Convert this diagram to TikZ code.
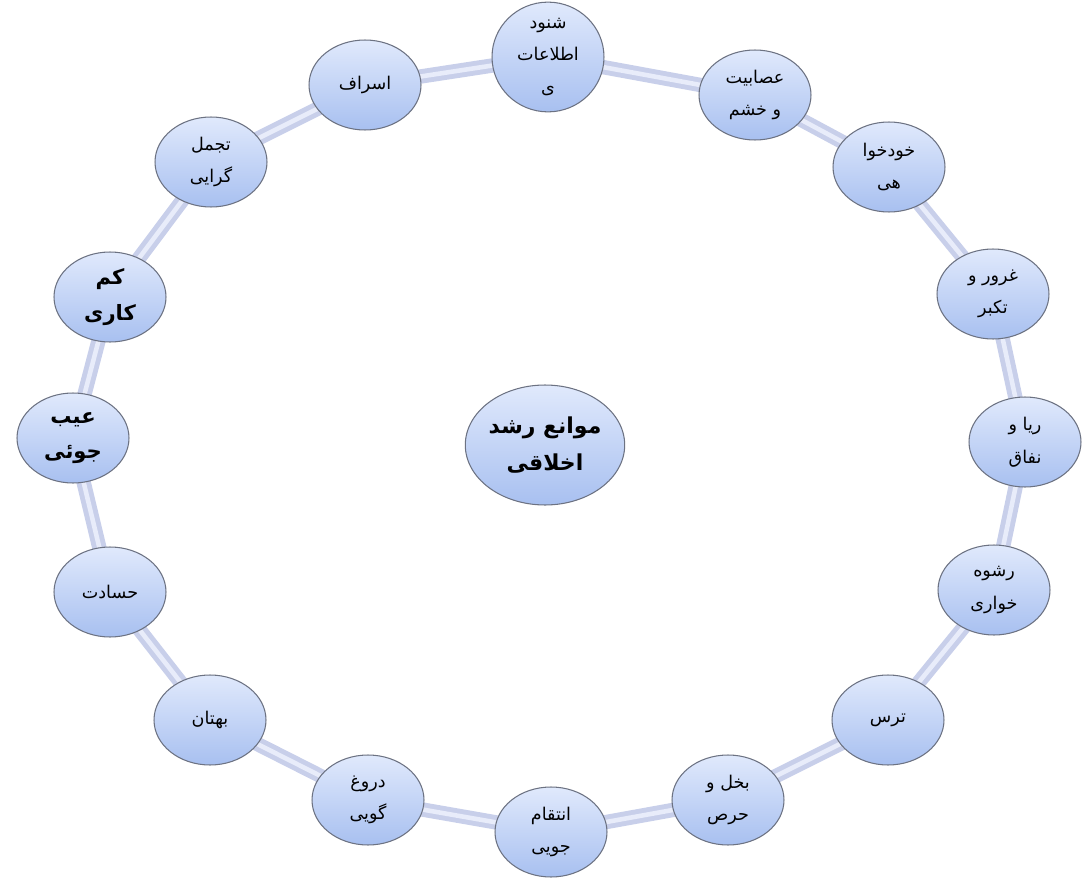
\documentclass[tikz,border=0pt]{standalone}
\usepackage{fontspec}
\newfontfamily\farsi[Script=Arabic]{DejaVu Sans}
\TeXXeTstate=1
\newcommand{\fa}[1]{{\farsi\beginR #1\endR}}
\usetikzlibrary{shapes.geometric, backgrounds}

\definecolor{anneau}{RGB}{200,207,234}
\definecolor{anneauclair}{RGB}{232,236,250}
\definecolor{bullebas}{RGB}{168,192,240}
\definecolor{bullehaut}{RGB}{224,233,252}
\definecolor{contour}{RGB}{108,114,130}

\tikzset{
  bulle/.style={ellipse, draw=contour, line width=0.6pt, top color=bullehaut, bottom color=bullebas,
    minimum width=2.24cm, minimum height=1.8cm, inner sep=0pt, align=center,
    font=\fontsize{10}{18.5}\selectfont},
  bullegras/.style={bulle, font=\bfseries\fontsize{12}{20}\selectfont},
  centre/.style={bulle, minimum width=3cm, minimum height=2.4cm, font=\bfseries\fontsize{12.5}{21}\selectfont},
  lien/.style={draw=anneau, line width=2.8pt, double=anneauclair, double distance=2.6pt}
}

\begin{document}
\begin{tikzpicture}[x=0.02cm, y=-0.02cm]
  \useasboundingbox (0,0) rectangle (1082,882);

  % the ring of obstacles
  \foreach \nom/\x/\y/\genre/\texte in {
      shonud/548/57/bulle/{\fa{شنود}\\\fa{اطلاعات}\\\fa{ی}},
      asabiat/755/95/bulle/{\fa{عصابیت}\\\fa{و خشم}},
      khodkhahi/889/167/bulle/{\fa{خودخوا}\\\fa{هی}},
      ghorur/993/294/bulle/{\fa{غرور و}\\\fa{تکبر}},
      riya/1025/442/bulle/{\fa{ریا و}\\\fa{نفاق}},
      rashve/994/590/bulle/{\fa{رشوه}\\\fa{خواری}},
      tars/888/720/bulle/{\fa{ترس}},
      bokhl/728/800/bulle/{\fa{بخل و}\\\fa{حرص}},
      enteqam/551/832/bulle/{\fa{انتقام}\\\fa{جویی}},
      dorugh/368/800/bulle/{\fa{دروغ}\\\fa{گویی}},
      bohtan/210/720/bulle/{\fa{بهتان}},
      hesadat/110/592/bulle/{\fa{حسادت}},
      eyb/73/438/bullegras/{\fa{عیب}\\\fa{جوئی}},
      kamkari/110/297/bullegras/{\fa{کم}\\\fa{کاری}},
      tajammol/211/162/bulle/{\fa{تجمل}\\\fa{گرایی}},
      esraf/365/85/bulle/{\fa{اسراف}}} {
    \node[\genre] (\nom) at (\x,\y) {\texte};
  }

  \node[centre] (moanee) at (545,445) {\fa{موانع رشد}\\\fa{اخلاقی}};

  \begin{pgfonlayer}{background}
    \foreach \a/\b in {shonud/asabiat, asabiat/khodkhahi, khodkhahi/ghorur, ghorur/riya,
        riya/rashve, rashve/tars, tars/bokhl, bokhl/enteqam, enteqam/dorugh, dorugh/bohtan,
        bohtan/hesadat, hesadat/eyb, eyb/kamkari, kamkari/tajammol, tajammol/esraf, esraf/shonud}
      \draw[lien] (\a.center) -- (\b.center);
  \end{pgfonlayer}
\end{tikzpicture}
\end{document}
